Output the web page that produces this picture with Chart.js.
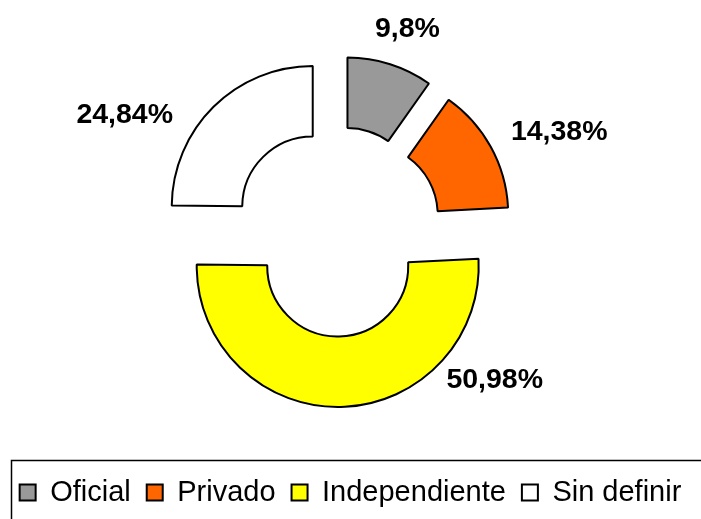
<!DOCTYPE html>
<html lang="es">
<head>
<meta charset="utf-8">
<title>Distribución por sector</title>
<script src="https://cdn.jsdelivr.net/npm/chart.js@4.4.1/dist/chart.umd.min.js"></script>
<style>
  html, body { margin: 0; padding: 0; background: #fff; }
  canvas { display: block; }
</style>
</head>
<body>
<canvas id="donut-chart" width="701" height="519"></canvas>
<script>
const categories = ["Oficial", "Privado", "Independiente", "Sin definir"];
const percentages = [9.8, 14.38, 50.98, 24.84];
const sliceColors = ["#999999", "#FF6600", "#FFFF00", "#FFFFFF"];

const fontFamily = "'Liberation Sans', Arial, Helvetica, sans-serif";

// pulls every slice away from the middle (exploded doughnut)
const explodePlugin = {
  id: "explode",
  afterDatasetUpdate(chart, args, opts) {
    args.meta.data.forEach((arc) => {
      const mid = (arc.startAngle + arc.endAngle) / 2;
      arc.x += opts.shiftX + Math.cos(mid) * opts.distance;
      arc.y += opts.shiftY + Math.sin(mid) * opts.distance;
    });
  },
};

// percentage text next to each slice
const sliceLabelPlugin = {
  id: "sliceLabels",
  afterDatasetsDraw(chart, args, opts) {
    const ctx = chart.ctx;
    const meta = chart.getDatasetMeta(0);
    ctx.save();
    ctx.font = opts.font;
    ctx.fillStyle = "#000";
    ctx.textAlign = "center";
    ctx.textBaseline = "middle";
    meta.data.forEach((arc, i) => {
      const text = String(percentages[i]).replace(".", ",") + "%";
      const off = opts.offsets[i];
      ctx.fillText(text, arc.x + off[0], arc.y + off[1]);
    });
    ctx.restore();
  },
};

// thin frame around the legend, like the original
const legendFramePlugin = {
  id: "legendFrame",
  afterDraw(chart, args, opts) {
    const ctx = chart.ctx;
    ctx.save();
    ctx.strokeStyle = "#000";
    ctx.lineWidth = 1.5;
    ctx.strokeRect(opts.left, opts.top, chart.width, chart.height);
    ctx.restore();
  },
};

const ctx = document.getElementById("donut-chart").getContext("2d");
const donutChart = new Chart(ctx, {
  type: "doughnut",
  data: {
    labels: categories,
    datasets: [
      {
        data: percentages,
        backgroundColor: sliceColors,
        borderColor: "#000000",
        borderWidth: 2,
        radius: 141,
        cutout: "50%",
      },
    ],
  },
  options: {
    responsive: false,
    animation: false,
    events: [],
    layout: {
      padding: { top: 1, bottom: 2 },
    },
    plugins: {
      legend: {
        position: "bottom",
        labels: {
          boxWidth: 16,
          boxHeight: 16,
          padding: 16,
          color: "#000",
          font: { family: fontFamily, size: 29 },
        },
      },
      tooltip: { enabled: false },
      explode: { distance: 34.5, shiftX: -13.5, shiftY: 0 },
      sliceLabels: {
        font: "bold 28.5px " + fontFamily,
        offsets: [
          [60, -169],
          [192, -83],
          [157, 114],
          [-188, -92],
        ],
      },
      legendFrame: { left: 11.5, top: 460.5 },
    },
  },
  plugins: [explodePlugin, sliceLabelPlugin, legendFramePlugin],
});
</script>
</body>
</html>
